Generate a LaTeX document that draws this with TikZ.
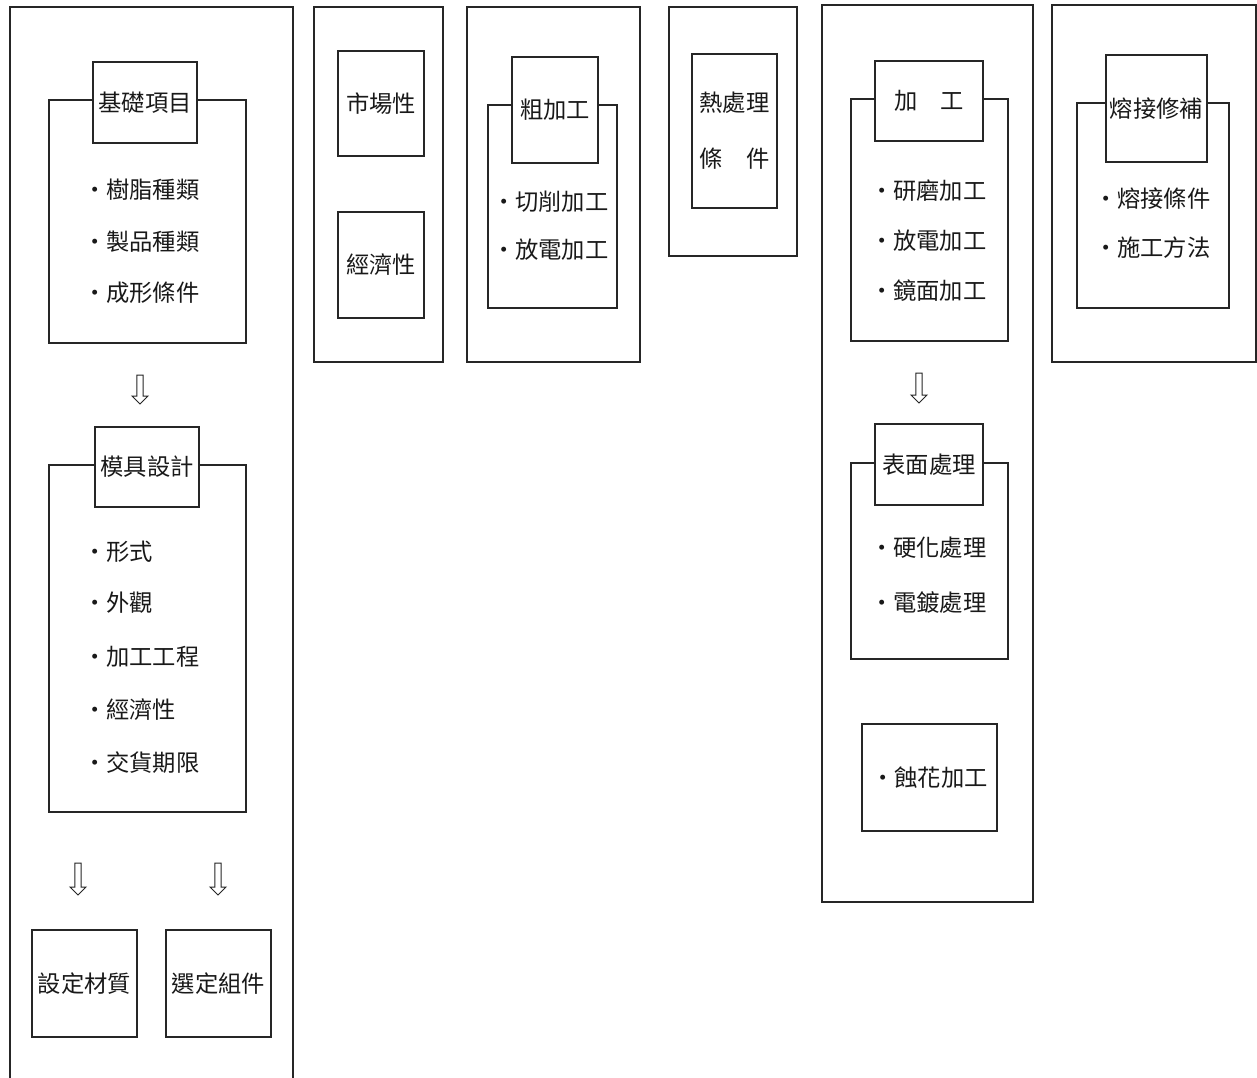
\documentclass[tikz,border=0pt]{standalone}
\usepackage{fontspec}
\setmainfont{Noto Sans CJK TC}
\tikzset{
  lines/.style={draw=black!85, line width=1.05pt},
  frame/.style={lines, fill=white, inner sep=0pt, outer sep=0pt},
  txt/.style={inner sep=0pt, outer sep=0pt, font=\fontsize{23.3}{28}\selectfont, text=black!90},
  item/.style={txt, anchor=west},
  darrow/.pic={\draw[lines, line width=1pt, fill=white] (-3.2,0) -- (3.2,0) -- (3.2,#1-8) -- (8,#1-8) -- (0,#1) -- (-8,#1-8) -- (-3.2,#1-8) -- cycle;}
}
% \mybox{name}{x1}{y1}{x2}{y2}{text}
\newcommand\mybox[6]{%
  \node[frame, txt, minimum width={#4-#2}, minimum height={#5-#3}, align=center]
    (#1) at ({(#2+#4)/2},{(#3+#5)/2}) {#6};}
\begin{document}
\begin{tikzpicture}[x=1pt,y=-1pt]
\useasboundingbox[fill=white] (0,0) rectangle (1257,1077);

% ---------- column 1 ----------
\draw[lines] (10,1080) -- (10,7) -- (293,7) -- (293,1080);
\coordinate (c1bottom) at (10,1077);
\mybox{basebig}{49}{100}{246}{343}{}
\mybox{basetitle}{93}{62}{197}{143}{基礎項目}
\node[item] (b1) at (83,190) {・樹脂種類};
\node[item] (b2) at (83,242) {・製品種類};
\node[item] (b3) at (83,293) {・成形條件};
\coordinate (a1) at (140,375);
\pic at (a1) {darrow=29};
\mybox{moldbig}{49}{465}{246}{812}{}
\mybox{moldtitle}{95}{427}{199}{507}{模具設計}
\node[item] (m1) at (83,552) {・形式};
\node[item] (m2) at (83,603) {・外觀};
\node[item] (m3) at (83,657) {・加工工程};
\node[item] (m4) at (83,710) {・經濟性};
\node[item] (m5) at (83,763) {・交貨期限};
\coordinate (a2) at (78,863);
\coordinate (a3) at (218,863);
\pic at (a2) {darrow=32};
\pic at (a3) {darrow=32};
\mybox{material}{32}{930}{137}{1037}{設定材質}
\mybox{parts}{166}{930}{271}{1037}{選定組件}

% ---------- column 2 ----------
\mybox{c2outer}{314}{7}{443}{362}{}
\mybox{market}{338}{51}{424}{156}{市場性}
\mybox{econ}{338}{212}{424}{318}{經濟性}

% ---------- column 3 ----------
\mybox{c3outer}{467}{7}{640}{362}{}
\mybox{roughbig}{488}{105}{617}{308}{}
\mybox{roughtitle}{512}{57}{598}{163}{粗加工}
\node[item] (r1) at (492,202) {・切削加工};
\node[item] (r2) at (492,250) {・放電加工};

% ---------- column 4 ----------
\mybox{c4outer}{669}{7}{797}{256}{}
\node[frame, txt, minimum width=85, minimum height=154, align=center,
      font=\fontsize{23.3}{56}\selectfont] (heat) at (734.5,131) {熱處理\\條　件};

% ---------- column 5 ----------
\mybox{c5outer}{822}{5}{1033}{902}{}
\mybox{machbig}{851}{99}{1008}{341}{}
\mybox{machtitle}{875}{61}{983}{141}{加　工}
\node[item] (k1) at (870,191) {・研磨加工};
\node[item] (k2) at (870,241) {・放電加工};
\node[item] (k3) at (870,291) {・鏡面加工};
\coordinate (a4) at (919,373);
\pic at (a4) {darrow=30};
\mybox{surfbig}{851}{463}{1008}{659}{}
\mybox{surftitle}{875}{424}{983}{505}{表面處理}
\node[item] (s1) at (870,548) {・硬化處理};
\node[item] (s2) at (870,603) {・電鍍處理};
\mybox{etch}{862}{724}{997}{831}{・蝕花加工}

% ---------- column 6 ----------
\mybox{c6outer}{1052}{5}{1256}{362}{}
\mybox{weldbig}{1077}{103}{1229}{308}{}
\mybox{weldtitle}{1106}{55}{1207}{162}{熔接修補}
\node[item] (w1) at (1094,199) {・熔接條件};
\node[item] (w2) at (1094,248) {・施工方法};
\end{tikzpicture}
\end{document}
